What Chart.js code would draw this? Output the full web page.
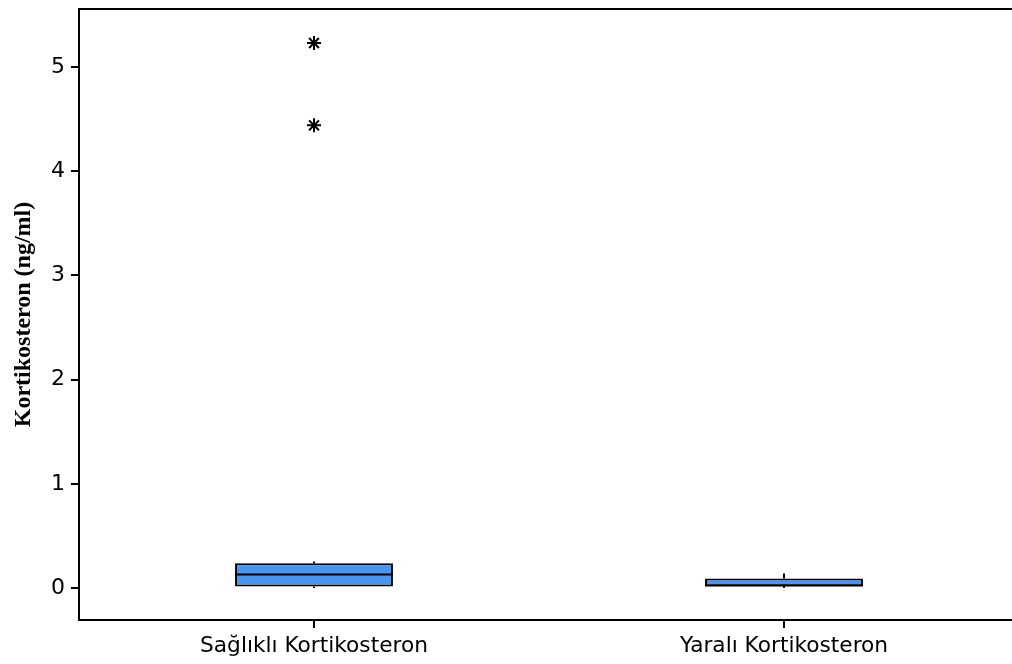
<!DOCTYPE html>
<html>
<head>
<meta charset="utf-8">
<script src="https://cdn.jsdelivr.net/npm/chart.js@4/dist/chart.umd.min.js"></script>
<style>
  html, body { margin: 0; padding: 0; background: #fff; overflow: hidden; }
  #wrap { width: 1030px; height: 664px; position: relative; }
</style>
</head>
<body>
<div id="wrap"><canvas id="c" width="1030" height="664"></canvas></div>
<script>
const categories = ['Sağlıklı Kortikosteron', 'Yaralı Kortikosteron'];
const whiskerMin = [0.003, 0.003];
const q1 = [0.016, 0.019];
const median = [0.131, 0.025];
const q3 = [0.239, 0.093];
const whiskerMax = [0.255, 0.14];
const outlierCategory = [0, 0];
const outlierValues = [5.23, 4.44];
const yTicks = [0, 1, 2, 3, 4, 5];
const yTitle = 'Kortikosteron (ng/ml)';

const boxData = categories.map((c, i) => [q1[i], q3[i]]);
const outlierData = outlierValues.map((v, i) => ({ x: categories[outlierCategory[i]], y: v }));

const boxPlugin = {
  id: 'boxParts',
  afterDatasetsDraw(chart) {
    const ctx = chart.ctx;
    const y = chart.scales.y;
    const meta = chart.getDatasetMeta(0);
    ctx.save();
    ctx.strokeStyle = '#000';
    ctx.lineWidth = 2;
    meta.data.forEach((bar, i) => {
      const half = bar.width / 2;
      const xm = bar.x;
      const ym = y.getPixelForValue(median[i]);
      ctx.beginPath();
      ctx.moveTo(xm - half, ym);
      ctx.lineTo(xm + half, ym);
      ctx.stroke();
      ctx.beginPath();
      ctx.moveTo(xm, y.getPixelForValue(q3[i]));
      ctx.lineTo(xm, y.getPixelForValue(whiskerMax[i]));
      ctx.moveTo(xm, y.getPixelForValue(q1[i]));
      ctx.lineTo(xm, y.getPixelForValue(whiskerMin[i]));
      ctx.stroke();
    });
    const ca = chart.chartArea;
    ctx.beginPath();
    ctx.moveTo(ca.left - 1, ca.top);
    ctx.lineTo(chart.width, ca.top);
    ctx.stroke();
    ctx.restore();
  }
};

new Chart(document.getElementById('c'), {
  type: 'bar',
  data: {
    labels: categories,
    datasets: [
      {
        type: 'bar',
        data: boxData,
        backgroundColor: '#4a94f0',
        borderColor: '#000',
        borderWidth: 2,
        borderSkipped: false,
        barPercentage: 0.336,
        categoryPercentage: 1.0,
        order: 2
      },
      {
        type: 'scatter',
        data: outlierData,
        pointStyle: 'star',
        radius: 7,
        borderColor: '#000',
        backgroundColor: '#000',
        borderWidth: 2,
        order: 1
      }
    ]
  },
  options: {
    responsive: false,
    animation: false,
    layout: { padding: { top: 6, right: 11, left: 0, bottom: 0 } },
    plugins: { legend: { display: false }, tooltip: { enabled: false } },
    scales: {
      x: {
        type: 'category',
        offset: true,
        grid: { display: true, drawOnChartArea: false, drawTicks: true, tickLength: 8, color: '#000', lineWidth: 2, offset: false },
        border: { display: true, color: '#000', width: 2 },
        ticks: { color: '#000', font: { family: 'DejaVu Sans', size: 21.7 }, padding: 5, maxRotation: 0 },
        afterFit(scale) { scale.height = 44; scale.paddingLeft = 0; scale.paddingRight = 0; }
      },
      y: {
        min: -0.305,
        max: 5.556,
        afterBuildTicks(scale) { scale.ticks = yTicks.map(v => ({ value: v })); },
        grid: { display: true, drawOnChartArea: false, drawTicks: true, tickLength: 8, color: '#000', lineWidth: 2 },
        border: { display: true, color: '#000', width: 2 },
        ticks: { color: '#000', font: { family: 'DejaVu Sans', size: 22 }, padding: 6 },
        title: {
          display: true,
          text: yTitle,
          color: '#000',
          font: { family: 'Liberation Serif', size: 24, weight: 'bold' },
          padding: { top: 9, bottom: 0 }
        },
        afterFit(scale) { scale.width = 79; scale.paddingTop = 0; scale.paddingBottom = 0; }
      }
    }
  },
  plugins: [boxPlugin]
});
</script>
</body>
</html>
